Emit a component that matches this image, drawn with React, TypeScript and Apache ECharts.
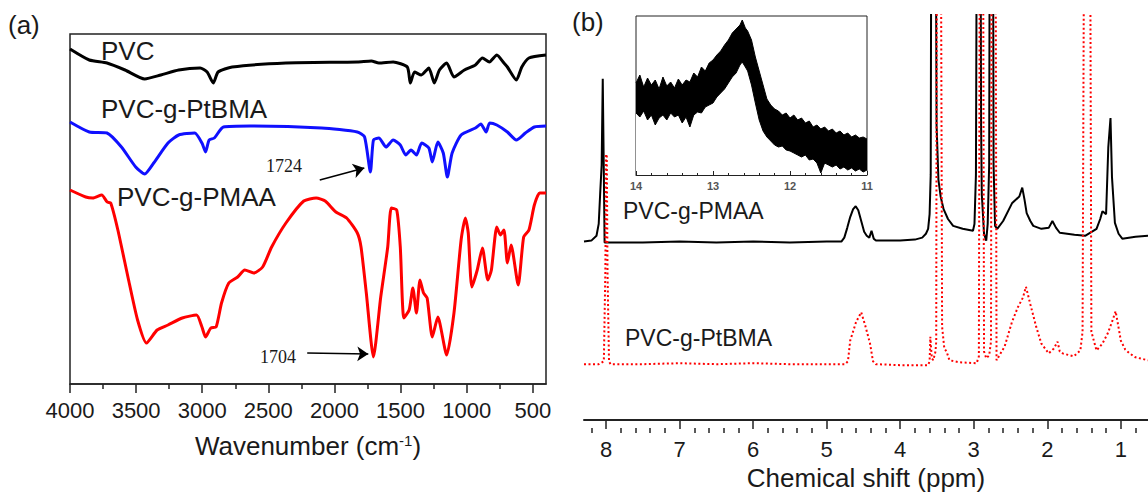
import React, { useEffect, useRef } from "react";
import * as echarts from "echarts";

// ---------- Panel (a): FTIR (transmittance, arbitrary units with offsets) ----------
const pvcX = [4000, 3854, 3720, 3584, 3435, 3313, 3178, 3016, 2963, 2916, 2880, 2774, 2367, 1827, 1721, 1664, 1556, 1449, 1426, 1394, 1343, 1286, 1245, 1206, 1151, 1096, 1017, 934, 881, 828, 772, 718, 692, 624, 583, 529, 400];
const pvcY = [335, 324, 321, 314, 305, 309, 314, 316, 312, 301, 312, 317, 321, 322, 323, 321, 322, 317, 301, 312, 309, 316, 301, 314, 321, 307, 314, 319, 326, 322, 329, 321, 317, 304, 317, 326, 329];

const ptbmaX = [4000, 3854, 3720, 3611, 3503, 3435, 3367, 3259, 3178, 3057, 3002, 2975, 2948, 2908, 2840, 2637, 2097, 1827, 1772, 1728, 1705, 1664, 1610, 1556, 1502, 1461, 1421, 1380, 1340, 1286, 1260, 1218, 1177, 1146, 1110, 1042, 934, 893, 853, 826, 772, 692, 624, 556, 488, 400];
const ptbmaY = [262, 252, 251, 237, 217, 210, 221, 241, 249, 251, 241, 232, 244, 246, 257, 258, 256, 252, 247, 212, 244, 246, 237, 244, 239, 229, 234, 229, 241, 236, 222, 242, 231, 207, 231, 249, 256, 260, 252, 261, 259, 252, 244, 251, 257, 258];

const pmaaX = [4000, 3881, 3827, 3760, 3719, 3692, 3638, 3557, 3489, 3422, 3341, 3259, 3151, 3043, 3002, 2975, 2935, 2895, 2854, 2799, 2732, 2678, 2610, 2543, 2475, 2367, 2232, 2138, 2070, 1989, 1908, 1827, 1799, 1759, 1705, 1650, 1597, 1570, 1529, 1502, 1475, 1435, 1407, 1380, 1353, 1326, 1299, 1260, 1218, 1151, 1096, 1042, 1010, 988, 961, 920, 881, 840, 813, 772, 745, 718, 692, 664, 610, 569, 529, 488, 448, 400];
const pmaaY = [194, 187, 186, 189, 182, 181, 154, 104, 64, 41, 54, 59, 66, 69, 57, 47, 56, 57, 81, 101, 107, 114, 111, 117, 137, 161, 183, 186, 183, 172, 166, 151, 137, 91, 27, 87, 137, 176, 174, 137, 66, 74, 96, 71, 104, 91, 86, 47, 67, 29, 71, 144, 166, 151, 97, 114, 136, 104, 114, 157, 149, 154, 121, 139, 99, 147, 154, 179, 191, 191];

const ftirMajorTicks = [4000, 3500, 3000, 2500, 2000, 1500, 1000, 500];
const ftirMinorTicks = [3750, 3250, 2750, 2250, 1750, 1250, 750];

// arrows: [from wavenumber, from value, to wavenumber, to value]
const arrow1724 = [2111, 204, 1774, 216];
const arrow1704 = [2206, 31, 1744, 30];

// ---------- Panel (b): 1H NMR (intensity, arbitrary units with offsets) ----------
const nmrPmaaX = [8.30, 8.20, 8.13, 8.10, 8.08, 8.06, 8.045, 8.03, 8.02, 7.5, 7.0, 6.5, 6.0, 5.5, 5.0, 4.80, 4.76, 4.72, 4.68, 4.64, 4.605, 4.57, 4.53, 4.49, 4.455, 4.42, 4.39, 4.36, 4.33, 4.0, 3.80, 3.70, 3.65, 3.62, 3.60, 3.585, 3.575, 3.52, 3.505, 3.48, 3.45, 3.41, 3.35, 3.28, 3.15, 3.01, 2.99, 2.97, 2.955, 2.91, 2.90, 2.89, 2.86, 2.83, 2.81, 2.79, 2.78, 2.74, 2.73, 2.71, 2.68, 2.60, 2.48, 2.38, 2.34, 2.31, 2.28, 2.23, 2.19, 2.08, 1.98, 1.93, 1.88, 1.83, 1.63, 1.48, 1.33, 1.28, 1.25, 1.20, 1.17, 1.14, 1.12, 1.08, 1.03, 0.98, 0.80, 0.63];
const nmrPmaaY = [182, 183, 188, 200, 231, 260, 348, 250, 181, 181, 182, 181, 182, 181, 182, 182, 186, 196, 207, 215, 218, 214, 203, 192, 188, 186, 193, 185, 183, 183, 184, 186, 190, 195, 210, 250, 600, 600, 300, 245, 228, 215, 205, 198, 195, 193, 200, 250, 600, 600, 300, 230, 190, 183, 200, 260, 600, 600, 260, 198, 195, 203, 221, 228, 237, 225, 211, 203, 198, 195, 196, 203, 196, 191, 189, 188, 195, 205, 213, 210, 278, 308, 248, 201, 190, 185, 187, 188];

const nmrPtbmaX = [8.30, 8.10, 8.03, 8.01, 8.00, 7.99, 7.98, 7.96, 7.94, 7.5, 7.0, 6.5, 6.0, 5.5, 5.0, 4.75, 4.71, 4.68, 4.60, 4.53, 4.47, 4.41, 4.37, 4.33, 4.0, 3.62, 3.60, 3.59, 3.57, 3.55, 3.52, 3.51, 3.50, 3.45, 3.43, 3.40, 3.37, 3.33, 3.20, 2.96, 2.93, 2.915, 2.875, 2.86, 2.83, 2.79, 2.765, 2.755, 2.705, 2.69, 2.58, 2.48, 2.40, 2.33, 2.29, 2.23, 2.15, 2.08, 1.98, 1.91, 1.86, 1.83, 1.79, 1.64, 1.55, 1.52, 1.495, 1.42, 1.40, 1.33, 1.25, 1.18, 1.12, 1.07, 1.02, 1.00, 0.94, 0.88, 0.80, 0.63];
const nmrPtbmaY = [57, 57, 60, 150, 271, 271, 150, 60, 57, 57, 58, 57, 58, 57, 57, 57, 60, 81, 100, 110, 95, 78, 60, 57, 56, 56, 60, 85, 63, 61, 70, 80, 600, 600, 95, 73, 70, 61, 59, 58, 65, 600, 600, 70, 63, 66, 80, 600, 600, 61, 75, 100, 115, 125, 136, 118, 95, 78, 68, 73, 80, 70, 68, 65, 71, 90, 600, 600, 90, 71, 78, 88, 100, 111, 90, 81, 72, 68, 64, 61];

const nmrMajorTicks = [8, 7, 6, 5, 4, 3, 2, 1];
const nmrMinorTicks = [8.2, 7.8, 7.6, 7.4, 7.2, 6.8, 6.6, 6.4, 6.2, 5.8, 5.6, 5.4, 5.2, 4.8, 4.6, 4.4, 4.2, 3.8, 3.6, 3.4, 3.2, 2.8, 2.6, 2.4, 2.2, 1.8, 1.6, 1.4, 1.2, 0.8];

// ---------- Inset: 14–11 ppm, noisy band (upper / lower envelopes) ----------
const insetX = [14.00, 13.95, 13.90, 13.85, 13.80, 13.75, 13.70, 13.65, 13.60, 13.55, 13.50, 13.45, 13.40, 13.35, 13.30, 13.25, 13.20, 13.15, 13.10, 13.05, 13.00, 12.95, 12.90, 12.85, 12.80, 12.75, 12.70, 12.65, 12.62, 12.58, 12.55, 12.50, 12.45, 12.40, 12.35, 12.30, 12.25, 12.20, 12.15, 12.10, 12.05, 12.00, 11.95, 11.90, 11.85, 11.80, 11.75, 11.70, 11.65, 11.60, 11.55, 11.50, 11.45, 11.40, 11.35, 11.30, 11.25, 11.20, 11.15, 11.10, 11.05, 11.00];
const insetUpper = [92, 100, 88, 97, 90, 95, 86, 98, 89, 93, 87, 96, 90, 95, 93, 102, 98, 108, 104, 112, 115, 120, 124, 130, 135, 142, 146, 150, 155, 147, 144, 135, 118, 104, 90, 76, 70, 66, 64, 60, 62, 57, 60, 55, 57, 52, 54, 48, 50, 46, 48, 44, 46, 42, 44, 40, 42, 38, 40, 37, 38, 36];
const insetLower = [62, 58, 64, 55, 60, 50, 57, 60, 55, 62, 58, 60, 52, 58, 48, 60, 63, 62, 68, 70, 72, 78, 82, 86, 92, 98, 102, 110, 113, 108, 104, 90, 72, 55, 44, 38, 34, 30, 28, 29, 25, 24, 22, 20, 18, 20, 15, 16, 12, 2, 12, 10, 8, 10, 6, 8, 5, 7, 4, 6, 3, 5];

const zip = (xs: number[], ys: number[]) => xs.map((x, i) => [x, ys[i]]);

const SANS = "'Liberation Sans', Arial, sans-serif";
const SERIF = "'Liberation Serif', 'Times New Roman', serif";
const INK = "#1a1a1a";
const plain = (v: number) => String(v);

export default function App() {
  const ref = useRef<HTMLDivElement>(null);

  useEffect(() => {
    if (!ref.current) return;
    const chart = echarts.init(ref.current, null, { renderer: "svg" });

    const arrowMark = (a: number[]) => ({
      silent: true,
      symbol: ["none", "arrow"],
      symbolSize: 11,
      label: { show: false },
      lineStyle: { color: "#000", width: 1.6, type: "solid" },
      data: [[{ coord: [a[0], a[1]] }, { coord: [a[2], a[3]] }]],
    });

    const option: any = {
      animation: false,
      backgroundColor: "#ffffff",
      grid: [
        { left: 70, top: 34, width: 476, height: 350, show: true, borderColor: "#222", borderWidth: 1.5, backgroundColor: "rgba(0,0,0,0)" },
        { left: 584, top: 15, width: 564, height: 413, show: false },
        { left: 636, top: 16, width: 231, height: 159, show: true, borderColor: "#222", borderWidth: 1, backgroundColor: "#ffffff" },
      ],
      xAxis: [
        {
          gridIndex: 0, type: "value", min: 400, max: 4000, inverse: true, position: "bottom",
          axisLine: { show: true, lineStyle: { color: "#222", width: 1.5 } },
          axisTick: { show: true, customValues: ftirMajorTicks, length: 9, lineStyle: { color: "#222", width: 1.5 } },
          axisLabel: { customValues: ftirMajorTicks, formatter: plain, margin: 15, fontSize: 22, color: INK, fontFamily: SANS },
          splitLine: { show: false },
          name: "{t|Wavenumber (cm}{s|-1}{t|)}",
          nameLocation: "middle", nameGap: 49,
          nameTextStyle: {
            rich: {
              t: { fontSize: 26, fontFamily: SANS, color: INK },
              s: { fontSize: 15, fontFamily: SANS, color: INK, verticalAlign: "top" },
            },
          },
        },
        {
          gridIndex: 0, type: "value", min: 400, max: 4000, inverse: true, position: "top", offset: -350,
          axisLine: { show: false },
          axisTick: { show: true, inside: true, customValues: ftirMinorTicks, length: 5, lineStyle: { color: "#222", width: 1.5 } },
          axisLabel: { show: false },
          splitLine: { show: false },
        },
        {
          gridIndex: 1, type: "value", min: 0.63, max: 8.3, inverse: true, position: "bottom",
          axisLine: { show: true, lineStyle: { color: "#222", width: 2 } },
          axisTick: { show: true, customValues: nmrMajorTicks, length: 9, lineStyle: { color: "#222", width: 1.5 } },
          axisLabel: { customValues: nmrMajorTicks, formatter: plain, margin: 18, fontSize: 22, color: INK, fontFamily: SANS },
          splitLine: { show: false },
          name: "Chemical shift (ppm)",
          nameLocation: "middle", nameGap: 37,
          nameTextStyle: { fontSize: 26, fontFamily: SANS, color: INK },
        },
        {
          gridIndex: 1, type: "value", min: 0.63, max: 8.3, inverse: true, position: "top", offset: -413,
          axisLine: { show: false },
          axisTick: { show: true, inside: true, customValues: nmrMinorTicks, length: 5, lineStyle: { color: "#222", width: 1.5 } },
          axisLabel: { show: false },
          splitLine: { show: false },
        },
        {
          gridIndex: 2, type: "value", min: 11, max: 14, interval: 1, inverse: true, position: "bottom", z: 10,
          axisLine: { show: true, lineStyle: { color: "#222", width: 1 } },
          axisTick: { show: true, inside: true, length: 4, lineStyle: { color: "#222", width: 1 } },
          minorTick: { show: true, splitNumber: 5, length: 2, lineStyle: { color: "#222", width: 1 } },
          axisLabel: { margin: 5, fontSize: 11, fontWeight: "bold", color: "#555", fontFamily: SANS },
          splitLine: { show: false },
        },
      ],
      yAxis: [
        { gridIndex: 0, type: "value", min: 0, max: 350, show: false, splitLine: { show: false } },
        { gridIndex: 1, type: "value", min: 0, max: 413, show: false, splitLine: { show: false } },
        { gridIndex: 2, type: "value", min: 0, max: 159, show: false, splitLine: { show: false } },
      ],
      series: [
        {
          name: "PVC", type: "line", xAxisIndex: 0, yAxisIndex: 0, data: zip(pvcX, pvcY),
          symbol: "none", smooth: 0.2, lineStyle: { color: "#000000", width: 3, join: "round" },
        },
        {
          name: "PVC-g-PtBMA (FTIR)", type: "line", xAxisIndex: 0, yAxisIndex: 0, data: zip(ptbmaX, ptbmaY),
          symbol: "none", smooth: 0.2, lineStyle: { color: "#1010ff", width: 3, join: "round" },
          markLine: arrowMark(arrow1724),
        },
        {
          name: "PVC-g-PMAA (FTIR)", type: "line", xAxisIndex: 0, yAxisIndex: 0, data: zip(pmaaX, pmaaY),
          symbol: "none", smooth: 0.2, lineStyle: { color: "#ff0000", width: 3, join: "round" },
          markLine: arrowMark(arrow1704),
        },
        {
          name: "PVC-g-PMAA (NMR)", type: "line", xAxisIndex: 2, yAxisIndex: 1, data: zip(nmrPmaaX, nmrPmaaY),
          symbol: "none", clip: true, z: 3, lineStyle: { color: "#000000", width: 2 },
        },
        {
          name: "PVC-g-PtBMA (NMR)", type: "line", xAxisIndex: 2, yAxisIndex: 1, data: zip(nmrPtbmaX, nmrPtbmaY),
          symbol: "none", clip: true, z: 4, lineStyle: { color: "#ff0000", width: 2, type: [2, 2.5] },
        },
        {
          name: "inset-upper", type: "line", xAxisIndex: 4, yAxisIndex: 2,
          data: zip(insetX, insetUpper), symbol: "none", z: 2,
          lineStyle: { color: "#000", width: 1 }, areaStyle: { color: "#000", opacity: 1, origin: "start" },
        },
        {
          name: "inset-lower", type: "line", xAxisIndex: 4, yAxisIndex: 2,
          data: zip(insetX, insetLower), symbol: "none", z: 3,
          lineStyle: { color: "#000", width: 1 }, areaStyle: { color: "#fff", opacity: 1, origin: "start" },
        },
      ],
      graphic: [
        { type: "text", x: 8, y: 25, style: { text: "(a)", font: `26px ${SANS}`, fill: INK, textVerticalAlign: "middle" } },
        { type: "text", x: 101, y: 51, style: { text: "PVC", font: `26px ${SANS}`, fill: INK, textVerticalAlign: "middle" } },
        { type: "text", x: 101, y: 109, style: { text: "PVC-g-PtBMA", font: `26px ${SANS}`, fill: INK, textVerticalAlign: "middle" } },
        { type: "text", x: 117, y: 197, style: { text: "PVC-g-PMAA", font: `26px ${SANS}`, fill: INK, textVerticalAlign: "middle" } },
        { type: "text", x: 284, y: 166, style: { text: "1724", font: `18px ${SERIF}`, fill: INK, textAlign: "center", textVerticalAlign: "middle" } },
        { type: "text", x: 278, y: 357, style: { text: "1704", font: `18px ${SERIF}`, fill: INK, textAlign: "center", textVerticalAlign: "middle" } },
        { type: "text", x: 572, y: 22, style: { text: "(b)", font: `26px ${SANS}`, fill: INK, textVerticalAlign: "middle" } },
        { type: "text", x: 623, y: 211, style: { text: "PVC-g-PMAA", font: `23px ${SANS}`, fill: INK, textVerticalAlign: "middle" } },
        { type: "text", x: 625, y: 338, style: { text: "PVC-g-PtBMA", font: `23px ${SANS}`, fill: INK, textVerticalAlign: "middle" } },
      ],
    };

    chart.setOption(option);
    return () => chart.dispose();
  }, []);

  return (
    <div
      ref={ref}
      style={{ position: "fixed", left: 0, top: 0, width: 1148, height: 496, background: "#fff" }}
    />
  );
}
